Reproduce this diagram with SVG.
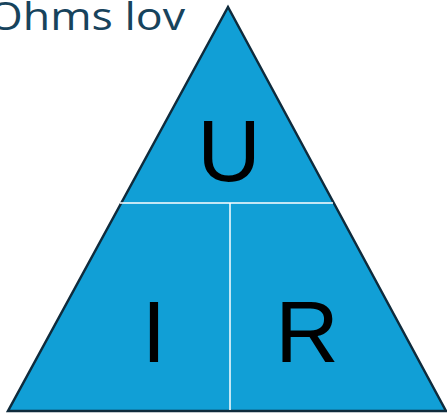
<svg xmlns="http://www.w3.org/2000/svg" width="447" height="414" viewBox="0 0 447 414">
<style>
.t{font-family:"Liberation Sans",Arial,sans-serif;fill:#000;font-size:88px;text-anchor:middle}
.sep{stroke:#ffffff;stroke-width:1.5;fill:none}
</style>
<rect width="447" height="414" fill="#ffffff"/>
<text x="-12" y="30" font-family="'Open Sans','Liberation Sans',sans-serif" font-size="38" fill="#17435C" textLength="197" lengthAdjust="spacingAndGlyphs">Ohms lov</text>
<g id="triangle">
<polygon points="228,7 8,411 446,411" fill="#119FD6" stroke="#0F2B3C" stroke-width="2.5" stroke-linejoin="miter"/>
</g>
<g id="connectors">
<line class="sep" x1="120" y1="203" x2="333" y2="203"/>
<line class="sep" x1="230" y1="203" x2="230" y2="410"/>
</g>
<g id="U"><text class="t" x="229" y="181">U</text></g>
<g id="I"><text class="t" x="154" y="362">I</text></g>
<g id="R"><text class="t" x="307" y="362">R</text></g>
</svg>
